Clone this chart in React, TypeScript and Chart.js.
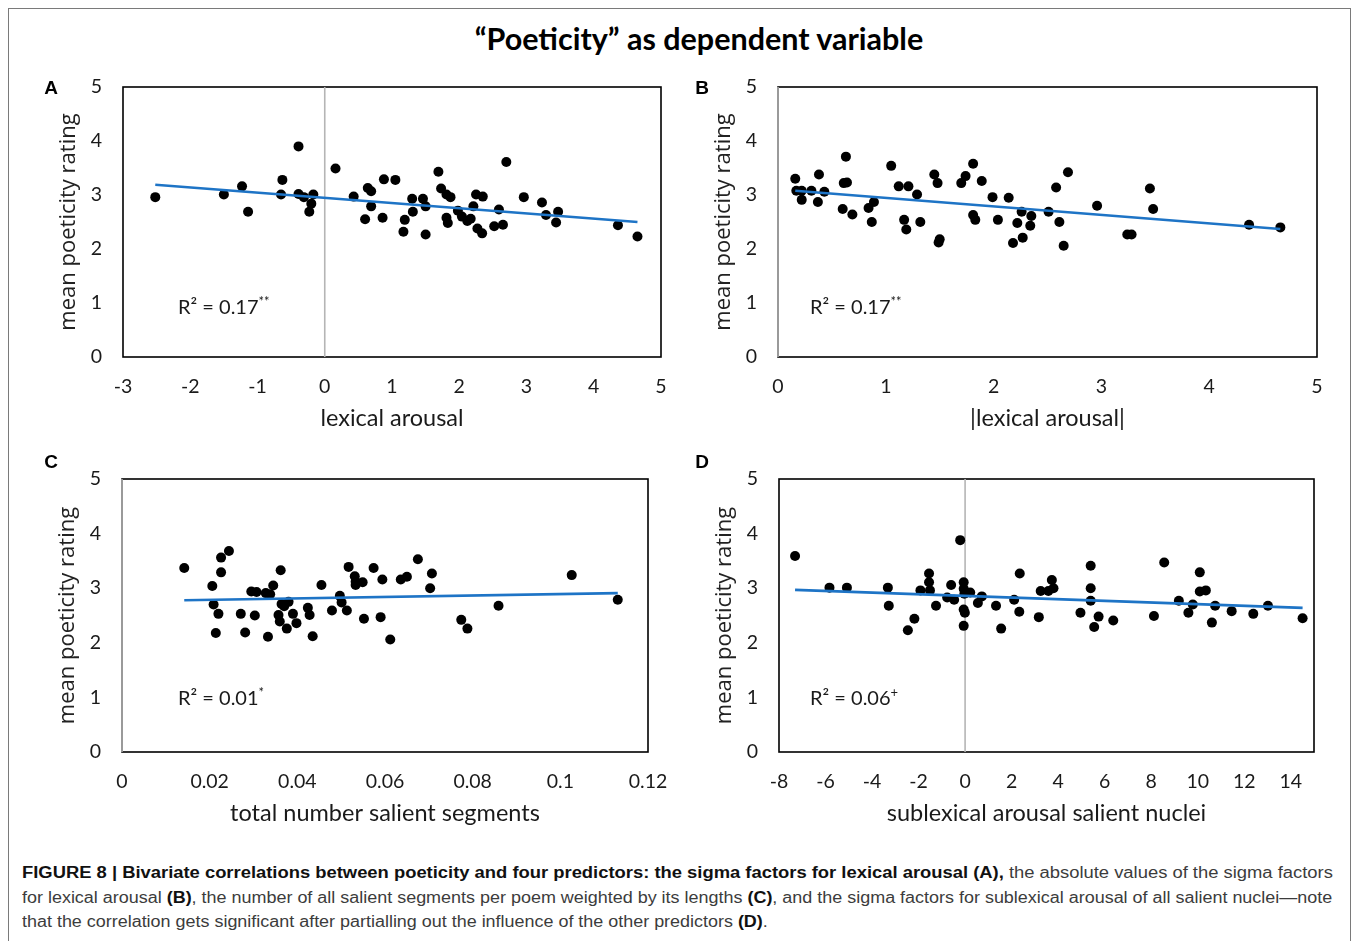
import React, { useEffect, useRef } from "react";
import { Chart, registerables } from "chart.js";

Chart.register(...registerables);

// ---------- data ----------
const Y_TICKS = [0, 1, 2, 3, 4, 5];
const Y_TITLE = "mean poeticity rating";

// Panel A: lexical arousal
const A_X = [-2.52, -1.5, -1.23, -1.14, -0.63, -0.65, -0.39, -0.39, -0.31, -0.17, -0.2, -0.23, 0.16, 0.43, 0.64, 0.69, 0.69, 0.6, 0.86, 0.88, 1.05, 1.17, 1.19, 1.3, 1.31, 1.46, 1.5, 1.5, 1.69, 1.73, 1.81, 1.87, 1.81, 1.83, 1.98, 2.04, 2.12, 2.17, 2.21, 2.25, 2.35, 2.27, 2.34, 2.52, 2.59, 2.65, 2.7, 2.96, 3.23, 3.29, 3.47, 3.44, 4.36, 4.65];
const A_Y = [2.96, 3.01, 3.16, 2.69, 3.28, 3.01, 3.9, 3.02, 2.96, 3.01, 2.84, 2.69, 3.49, 2.97, 3.13, 3.07, 2.79, 2.55, 2.58, 3.29, 3.28, 2.32, 2.54, 2.93, 2.69, 2.93, 2.79, 2.27, 3.43, 3.12, 3.01, 2.96, 2.58, 2.48, 2.71, 2.6, 2.52, 2.56, 2.79, 3.01, 2.97, 2.38, 2.29, 2.42, 2.73, 2.45, 3.61, 2.96, 2.86, 2.63, 2.69, 2.49, 2.44, 2.23];
const A_TREND_X = [-2.52, 4.65];
const A_TREND_Y = [3.19, 2.5];
const A_X_TICKS = [-3, -2, -1, 0, 1, 2, 3, 4, 5];

// Panel B: |lexical arousal|
const B_X = [0.16, 0.17, 0.22, 0.22, 0.31, 0.38, 0.37, 0.43, 0.61, 0.64, 0.63, 0.6, 0.69, 0.84, 0.89, 0.87, 1.05, 1.12, 1.21, 1.17, 1.19, 1.29, 1.32, 1.45, 1.48, 1.5, 1.49, 1.7, 1.74, 1.81, 1.81, 1.83, 1.89, 1.99, 2.04, 2.14, 2.18, 2.22, 2.26, 2.27, 2.35, 2.34, 2.51, 2.58, 2.61, 2.65, 2.69, 2.96, 3.24, 3.28, 3.45, 3.48, 4.37, 4.66];
const B_Y = [3.3, 3.08, 3.08, 2.91, 3.08, 3.38, 2.87, 3.06, 3.22, 3.23, 3.71, 2.74, 2.64, 2.76, 2.87, 2.5, 3.54, 3.16, 3.16, 2.54, 2.36, 3.01, 2.5, 3.38, 3.22, 2.18, 2.12, 3.22, 3.35, 3.58, 2.63, 2.54, 3.26, 2.96, 2.54, 2.95, 2.11, 2.48, 2.69, 2.21, 2.61, 2.43, 2.69, 3.14, 2.5, 2.06, 3.42, 2.8, 2.27, 2.27, 3.12, 2.74, 2.45, 2.4];
const B_TREND_X = [0.16, 4.66];
const B_TREND_Y = [3.08, 2.37];
const B_X_TICKS = [0, 1, 2, 3, 4, 5];

// Panel C: total number salient segments
const C_X = [0.0142, 0.0206, 0.0209, 0.022, 0.0214, 0.0226, 0.0226, 0.0244, 0.0271, 0.0281, 0.0295, 0.0307, 0.0303, 0.0328, 0.0338, 0.0333, 0.0345, 0.0362, 0.0357, 0.036, 0.0364, 0.037, 0.038, 0.0376, 0.039, 0.0398, 0.0424, 0.0428, 0.0435, 0.0455, 0.0479, 0.0497, 0.0501, 0.0513, 0.0517, 0.0531, 0.0533, 0.0533, 0.0549, 0.0552, 0.0574, 0.0594, 0.059, 0.0612, 0.0636, 0.065, 0.0675, 0.0703, 0.0707, 0.0774, 0.0788, 0.0859, 0.1026, 0.1131];
const C_Y = [3.37, 3.04, 2.7, 2.53, 2.18, 3.56, 3.29, 3.68, 2.53, 2.19, 2.94, 2.93, 2.5, 2.91, 2.89, 2.11, 3.05, 3.33, 2.51, 2.39, 2.71, 2.67, 2.75, 2.26, 2.53, 2.36, 2.64, 2.51, 2.12, 3.06, 2.59, 2.86, 2.74, 2.59, 3.39, 3.22, 3.12, 3.06, 3.11, 2.44, 3.37, 3.16, 2.47, 2.06, 3.16, 3.21, 3.53, 3.0, 3.27, 2.42, 2.26, 2.68, 3.24, 2.79];
const C_TREND_X = [0.0142, 0.1131];
const C_TREND_Y = [2.78, 2.91];
const C_X_TICKS = [0, 0.02, 0.04, 0.06, 0.08, 0.1, 0.12];

// Panel D: sublexical arousal salient nuclei
const D_X = [-7.31, -5.83, -5.08, -3.32, -3.28, -2.46, -2.18, -1.92, -1.55, -1.55, -1.51, -1.25, -0.77, -0.6, -0.47, -0.21, -0.06, -0.06, -0.03, -0.06, -0.01, -0.06, 0.22, 0.72, 0.55, 1.33, 1.55, 2.11, 2.33, 2.35, 3.17, 3.25, 3.58, 3.73, 3.8, 4.96, 5.4, 5.4, 5.4, 5.55, 5.74, 6.37, 8.12, 8.56, 9.19, 9.6, 9.79, 10.09, 10.09, 10.35, 10.61, 10.75, 11.46, 12.39, 13.02, 14.51];
const D_Y = [3.59, 3.01, 3.01, 3.01, 2.68, 2.23, 2.44, 2.96, 3.27, 3.11, 2.96, 2.68, 2.83, 3.06, 2.79, 3.88, 3.11, 2.99, 2.9, 2.61, 2.55, 2.31, 2.92, 2.85, 2.73, 2.68, 2.26, 2.79, 2.57, 3.27, 2.47, 2.95, 2.95, 3.15, 3.0, 2.55, 3.41, 3.0, 2.77, 2.29, 2.48, 2.41, 2.49, 3.47, 2.77, 2.55, 2.7, 3.29, 2.94, 2.96, 2.37, 2.68, 2.58, 2.53, 2.68, 2.45];
const D_TREND_X = [-7.31, 14.51];
const D_TREND_Y = [2.97, 2.64];
const D_X_TICKS = [-8, -6, -4, -2, 0, 2, 4, 6, 8, 10, 12, 14];

// ---------- layout ----------
type Spec = {
  letter: string;
  L: number; T: number; R: number; B: number;
  xs: number[]; ys: number[]; tx: number[]; ty: number[];
  xMin: number; xMax: number; xTicks: number[]; xTitle: string;
  r2: string; r2sup: string; r2x: number; r2y: number;
  lx: number; ly: number;
};

const PANELS: Spec[] = [
  { letter: "A", L: 123, T: 87, R: 661, B: 357, xs: A_X, ys: A_Y, tx: A_TREND_X, ty: A_TREND_Y, xMin: -3, xMax: 5, xTicks: A_X_TICKS, xTitle: "lexical arousal", r2: "R² = 0.17", r2sup: "**", r2x: 178, r2y: 306, lx: 51, ly: 88 },
  { letter: "B", L: 778, T: 87, R: 1317, B: 357, xs: B_X, ys: B_Y, tx: B_TREND_X, ty: B_TREND_Y, xMin: 0, xMax: 5, xTicks: B_X_TICKS, xTitle: "|lexical arousal|", r2: "R² = 0.17", r2sup: "**", r2x: 810, r2y: 306, lx: 702, ly: 88 },
  { letter: "C", L: 122, T: 479, R: 648, B: 752, xs: C_X, ys: C_Y, tx: C_TREND_X, ty: C_TREND_Y, xMin: 0, xMax: 0.12, xTicks: C_X_TICKS, xTitle: "total number salient segments", r2: "R² = 0.01", r2sup: "*", r2x: 178, r2y: 697, lx: 51, ly: 462 },
  { letter: "D", L: 779, T: 479, R: 1314, B: 752, xs: D_X, ys: D_Y, tx: D_TREND_X, ty: D_TREND_Y, xMin: -8, xMax: 15, xTicks: D_X_TICKS, xTitle: "sublexical arousal salient nuclei", r2: "R² = 0.06", r2sup: "+", r2x: 810, r2y: 697, lx: 702, ly: 462 },
];

const Y_AXIS_W = 90;
const X_AXIS_H = 85;
const PAD_T = 34;
const PAD_R = 42;
const TEXT = "#1a1a1a";

const framePlugin = {
  id: "frame",
  beforeDatasetsDraw(chart: any) {
    const { ctx, chartArea: a, scales } = chart;
    ctx.save();
    ctx.strokeStyle = "#000";
    ctx.lineWidth = 1.6;
    ctx.strokeRect(a.left, a.top, a.right - a.left, a.bottom - a.top);
    const x0 = scales.x.getPixelForValue(0);
    if (x0 >= a.left - 0.5 && x0 <= a.right) {
      ctx.strokeStyle = "#b5b5b5";
      ctx.lineWidth = 1.6;
      ctx.beginPath();
      ctx.moveTo(x0, a.top);
      ctx.lineTo(x0, a.bottom);
      ctx.stroke();
    }
    ctx.restore();
  },
};

function Panel({ s }: { s: Spec }) {
  const ref = useRef<HTMLCanvasElement | null>(null);
  const left = s.L - Y_AXIS_W;
  const top = s.T - PAD_T;
  const width = s.R - s.L + Y_AXIS_W + PAD_R;
  const height = s.B - s.T + PAD_T + X_AXIS_H;

  useEffect(() => {
    if (!ref.current) return;
    const pts = s.xs.map((x, i) => ({ x, y: s.ys[i] }));
    const trend = s.tx.map((x, i) => ({ x, y: s.ty[i] }));
    const chart = new Chart(ref.current, {
      type: "scatter",
      data: {
        datasets: [
          {
            type: "line",
            data: trend,
            borderColor: "#1e74c6",
            borderWidth: 2.6,
            pointRadius: 0,
            fill: false,
            tension: 0,
            order: 0,
          } as any,
          {
            type: "scatter",
            data: pts,
            backgroundColor: "#000",
            borderColor: "#000",
            borderWidth: 0,
            pointRadius: 5,
            order: 1,
          },
        ],
      },
      options: {
        animation: false,
        responsive: false,
        devicePixelRatio: 1,
        events: [],
        layout: { padding: { left: 0, top: PAD_T, right: PAD_R, bottom: 0 } },
        plugins: { legend: { display: false }, tooltip: { enabled: false } },
        scales: {
          x: {
            type: "linear",
            min: s.xMin,
            max: s.xMax,
            grid: { display: false, drawTicks: false },
            border: { display: false },
            afterBuildTicks: (sc: any) => {
              sc.ticks = s.xTicks.map((v) => ({ value: v }));
            },
            afterFit: (sc: any) => {
              sc.height = X_AXIS_H;
            },
            ticks: {
              padding: 18,
              color: TEXT,
              font: { family: "Lato", size: 19.5 },
              maxRotation: 0,
              autoSkip: false,
              callback: (v: any) => String(Math.round(Number(v) * 1000) / 1000),
            },
            title: {
              display: true,
              text: s.xTitle,
              color: TEXT,
              font: { family: "Lato", size: 23.5 },
              padding: { top: 0, bottom: 9 },
            },
          },
          y: {
            type: "linear",
            min: 0,
            max: 5,
            grid: { display: false, drawTicks: false },
            border: { display: false },
            afterBuildTicks: (sc: any) => {
              sc.ticks = Y_TICKS.map((v) => ({ value: v }));
            },
            afterFit: (sc: any) => {
              sc.width = Y_AXIS_W;
            },
            ticks: {
              padding: 21,
              color: TEXT,
              font: { family: "Lato", size: 19.5 },
              callback: (v: any) => String(v),
            },
            title: {
              display: true,
              text: Y_TITLE,
              color: "#222",
              font: { family: "Open Sans", size: 22 },
              padding: { top: 23, bottom: 0 },
            },
          },
        },
      },
      plugins: [framePlugin],
    });
    return () => chart.destroy();
  }, []);

  return (
    <>
      <canvas
        ref={ref}
        width={width}
        height={height}
        style={{ position: "absolute", left, top, width, height }}
      />
      <div
        style={{
          position: "absolute",
          left: s.lx - 20,
          top: s.ly - 12,
          width: 40,
          lineHeight: "24px",
          textAlign: "center",
          fontFamily: "'Liberation Sans', Arial, sans-serif",
          fontWeight: "bold",
          fontSize: 19,
          color: "#000",
        }}
      >
        {s.letter}
      </div>
      <div
        style={{
          position: "absolute",
          left: s.r2x,
          top: s.r2y - 12,
          lineHeight: "24px",
          fontFamily: "Lato",
          fontSize: 20,
          color: TEXT,
          whiteSpace: "nowrap",
        }}
      >
        {s.r2}
        <span style={{ fontSize: 13, position: "relative", top: -8 }}>{s.r2sup}</span>
      </div>
    </>
  );
}

const capLine = (top: number, scale: number): React.CSSProperties => ({
  position: "absolute",
  left: 22,
  top,
  fontFamily: "'Liberation Sans', Arial, sans-serif",
  fontSize: 16,
  lineHeight: "24px",
  color: "#3c3c3c",
  whiteSpace: "nowrap",
  transform: `scaleX(${scale})`,
  transformOrigin: "0 0",
});

const BOLD: React.CSSProperties = { color: "#111", fontWeight: "bold" };

export default function App() {
  return (
    <div
      style={{
        position: "absolute",
        left: 0,
        top: 0,
        width: 1357,
        height: 941,
        overflow: "hidden",
        background: "#fff",
      }}
    >
      <div
        style={{
          position: "absolute",
          left: 8,
          top: 8,
          width: 1343,
          height: 960,
          border: "1px solid #7a7a7a",
          boxSizing: "border-box",
        }}
      />
      <div
        style={{
          position: "absolute",
          left: 399,
          top: 19,
          width: 600,
          lineHeight: "38px",
          textAlign: "center",
          fontFamily: "Lato",
          fontWeight: "bold",
          fontSize: 30.5,
          color: "#000",
        }}
      >
        “Poeticity” as dependent variable
      </div>
      {PANELS.map((p) => (
        <Panel key={p.letter} s={p} />
      ))}
      <div style={capLine(861, 1.149)}>
        <span style={BOLD}>
          FIGURE 8 | Bivariate correlations between poeticity and four predictors: the sigma factors for lexical arousal (A),
        </span>{" "}
        the absolute values of the sigma factors
      </div>
      <div style={capLine(885.5, 1.122)}>
        for lexical arousal <span style={BOLD}>(B)</span>, the number of all salient segments per poem weighted by its lengths{" "}
        <span style={BOLD}>(C)</span>, and the sigma factors for sublexical arousal of all salient nuclei—note
      </div>
      <div style={capLine(910, 1.121)}>
        that the correlation gets significant after partialling out the influence of the other predictors{" "}
        <span style={BOLD}>(D)</span>.
      </div>
    </div>
  );
}
